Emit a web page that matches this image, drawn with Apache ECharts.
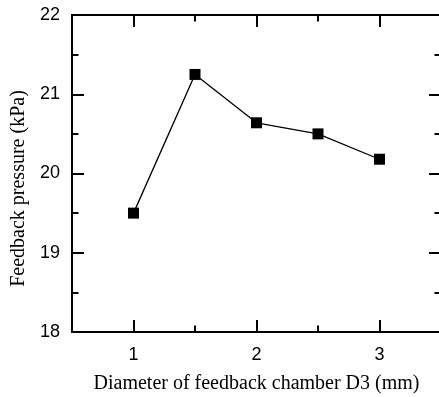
<!DOCTYPE html>
<html>
<head>
<meta charset="utf-8">
<script src="https://cdn.jsdelivr.net/npm/echarts@6/dist/echarts.min.js"></script>
<style>
  html, body { margin: 0; padding: 0; background: #fff; }
  #chart { width: 439px; height: 397px; }
</style>
</head>
<body>
<div id="chart"></div>
<script>
// Feedback pressure vs. feedback chamber diameter D3
const diameters = [1, 1.5, 2, 2.5, 3];
const pressures = [19.5, 21.25, 20.64, 20.5, 20.18];
const xMajorTicks = [1, 2, 3];
const xMinorTicks = [1.5, 2.5];

const chart = echarts.init(document.getElementById('chart'), null, { renderer: 'canvas' });

const sansFont = '"Liberation Sans", Arial, sans-serif';
const serifFont = '"Liberation Serif", "Times New Roman", serif';
const lineStyle = { color: '#000', width: 2 };

function xAxisDef(position, ticks, tickLen, withLabels) {
  return {
    type: 'value',
    position: position,
    min: 0.5,
    max: 3.5,
    interval: 0.5,
    axisLine: { show: true, onZero: false, lineStyle: lineStyle },
    axisTick: { show: true, inside: true, length: tickLen, customValues: ticks, lineStyle: lineStyle },
    axisLabel: withLabels
      ? { show: true, customValues: ticks, margin: 14, color: '#000', fontSize: 18, fontFamily: sansFont }
      : { show: false },
    splitLine: { show: false }
  };
}

function yAxisDef(position, withLabels) {
  return {
    type: 'value',
    position: position,
    min: 18,
    max: 22,
    interval: 1,
    axisLine: { show: true, onZero: false, lineStyle: lineStyle },
    axisTick: { show: true, inside: true, length: 12, lineStyle: lineStyle },
    minorTick: { show: true, splitNumber: 2, length: 6.5, lineStyle: lineStyle },
    axisLabel: withLabels
      ? { show: true, margin: 12, color: '#000', fontSize: 18, fontFamily: sansFont }
      : { show: false },
    splitLine: { show: false },
    minorSplitLine: { show: false }
  };
}

const bottomMajor = xAxisDef('bottom', xMajorTicks, 12, true);
bottomMajor.name = 'Diameter of feedback chamber D3 (mm)';
bottomMajor.nameLocation = 'middle';
bottomMajor.nameGap = 42;
bottomMajor.nameTextStyle = { color: '#000', fontSize: 20, fontFamily: serifFont };

const leftAxis = yAxisDef('left', true);
leftAxis.name = 'Feedback pressure (kPa)';
leftAxis.nameLocation = 'middle';
leftAxis.nameGap = 38;
leftAxis.nameTextStyle = { color: '#000', fontSize: 20, fontFamily: serifFont, padding: [0, 30, 0, 0] };

chart.setOption({
  animation: false,
  backgroundColor: '#fff',
  grid: { left: 72, top: 15, width: 369, height: 317, containLabel: false, outerBoundsMode: 'none' },
  xAxis: [
    bottomMajor,
    xAxisDef('bottom', xMinorTicks, 6.5, false),
    xAxisDef('top', xMajorTicks, 12, false),
    xAxisDef('top', xMinorTicks, 6.5, false)
  ],
  yAxis: [
    leftAxis,
    yAxisDef('right', false)
  ],
  series: [{
    type: 'line',
    xAxisIndex: 0,
    yAxisIndex: 0,
    data: diameters.map((d, i) => [d, pressures[i]]),
    symbol: 'rect',
    symbolSize: 11,
    showSymbol: true,
    lineStyle: { color: '#000', width: 1.3 },
    itemStyle: { color: '#000' }
  }]
});
</script>
</body>
</html>
